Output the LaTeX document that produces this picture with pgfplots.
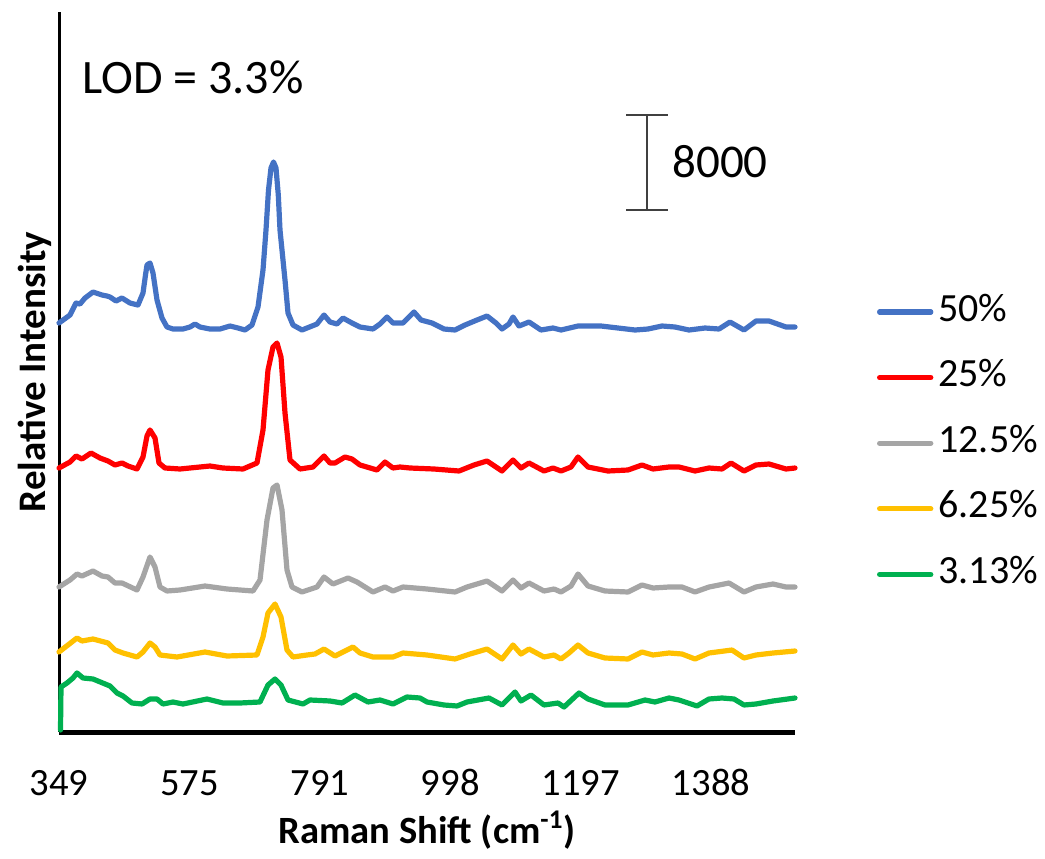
\documentclass[border=0pt]{standalone}
\usepackage{fontspec}
\setmainfont{Carlito}
\usepackage{pgfplots}
\pgfplotsset{compat=1.18}
\usepackage{pgfplotstable}
\definecolor{cblue}{HTML}{4472C4}
\definecolor{cred}{HTML}{FF0000}
\definecolor{cgray}{HTML}{A5A5A5}
\definecolor{cyellow}{HTML}{FFC000}
\definecolor{cgreen}{HTML}{00B050}
\definecolor{sbar}{HTML}{404040}
% x: position along the category axis (labels every 130.4 units), y: relative intensity (95 units = 8000 counts)
\pgfplotstableread{
x y
0 409
11 417
17 429
21 428
26 434
34 440
43 437
48 436
51 435
57 431
63 434
71 429
79 427
84 439
86.5 457
88 467
91 469
94 459
98 432
103 414
108 405
114 403
124 403
131 405
136 408
141 405
151 403
161 403
171 406
179 404
186 402
193 407
199 425
204 462
207 502
209.5 542
212 564
214.5 570
217 564
219.3 537
221 502
226 452
229 419
234 407
243 402
248 404
258 408
265 417
271 410
278 408
284 414
293 409
301 405
314 403
321 408
328 415
334 409
344 409
355 420
362 412
373 409
385 403
396 402
406 407
418 412
428 416
437 409
443 403
450 408
454 415
460 406
470 410
482 402
494 404
502 402
519 406
542 406
559 404
576 402
589 403
603 406
616 405
630 402
646 404
660 403
671 410
685 402
697 411
710 411
727 405
736 405
}\dblue
\pgfplotstableread{
x y
0 264
11 270
17 276
23 273
32 279
41 274
49 271
56 267
63 269
69 266
78 263
84 275
88 296
91 302
96 294
100 269
106 264
121 263
141 265
151 266
164 264
184 263
198 269
204 302
209 362
214 385
218 389
222 375
226 319
231 272
241 263
254 265
265 276
271 269
276 269
286 275
293 273
301 267
318 262
326 270
334 264
341 265
351 264
375 263
400 261
415 267
428 271
443 261
454 272
462 264
470 269
485 261
494 264
502 261
512 265
519 275
529 265
549 261
569 262
583 267
594 263
610 265
620 265
636 261
650 264
663 263
672 269
685 261
697 267
710 268
727 263
736 264
}\dred
\pgfplotstableread{
x y
0 145
11 152
18 158
23 156
34 161
43 156
49 155
56 149
63 149
78 142
84 155
91 175
96 165
101 145
108 141
121 142
146 146
168 143
194 141
201 152
208 212
214 244
218 247
223 222
228 162
233 145
243 140
258 145
265 155
274 148
289 154
298 150
314 140
326 145
334 141
344 145
368 143
396 140
408 145
428 151
443 141
454 152
462 144
470 149
485 141
495 143
502 140
512 146
519 158
529 146
546 141
569 140
583 147
594 144
610 145
623 145
636 140
650 145
670 149
685 140
697 145
714 148
727 145
736 145
}\dgray
\pgfplotstableread{
x y
0 80
9 87
18 94
23 91
34 93
49 89
56 82
64 79
78 75
84 80
91 89
96 85
101 77
118 75
146 80
168 76
198 77
204 95
209 119
216 128
222 115
228 82
234 75
248 77
256 78
265 83
276 76
294 85
301 79
314 75
334 75
344 79
368 77
396 73
411 78
428 83
443 73
454 87
462 78
470 83
485 75
495 77
502 73
510 79
519 87
529 79
546 74
569 73
583 80
594 77
610 79
623 78
636 73
650 79
673 82
685 74
697 77
714 79
736 81
}\dyellow
\pgfplotstableread{
x y
1.5 2
2 45
8 49
14 54
18 59
24 54
34 53
51 46
58 39
64 36
73 29
83 28
91 33
98 33
104 28
114 30
124 28
148 33
164 29
181 29
201 30
209 47
216 53
222 47
229 32
244 28
251 32
271 31
283 29
296 37
309 30
321 32
334 28
348 35
361 34
368 30
385 27
398 26
408 30
430 34
443 27
456 40
462 31
472 37
485 27
499 29
505 25
520 39
529 33
546 27
569 27
586 32
596 30
610 34
620 32
638 26
650 33
663 34
675 33
685 27
697 28
714 31
736 34
}\dgreen
\begin{document}
\begin{tikzpicture}
\begin{axis}[
  width=368bp, height=360bp, scale only axis,
  xmin=0, xmax=736, ymin=0, ymax=720,
  clip=false,
  axis x line=bottom, axis y line=left,
  axis line style={-},
  x axis line style={line width=2.5bp},
  y axis line style={line width=1.5bp},
  ytick=\empty,
  xtick={0,130.4,260.8,391.2,521.6,652},
  xticklabels={349,575,791,998,1197,1388},
  major tick length=0pt,
  /pgf/number format/assume math mode=true,
  xticklabel style={anchor=base, inner sep=0pt, yshift=-31.5bp, font=\fontsize{19.3bp}{23bp}\selectfont},
  xlabel={Raman Shift (cm\textsuperscript{-1})},
  xlabel style={at={(axis description cs:0.5,0)}, anchor=base, inner sep=0pt, yshift=-55.5bp, font=\fontsize{19.3bp}{22bp}\selectfont\bfseries},
  ylabel={Relative Intensity},
  ylabel style={at={(axis description cs:-0.0177,0.5)}, anchor=base, inner sep=0pt, font=\fontsize{19.5bp}{23bp}\selectfont\bfseries},
  legend cell align=left,
  legend image code/.code={\draw[#1, line cap=round] (1.2bp,0bp) -- (26.8bp,0bp);},
  legend style={at={(rel axis cs:1.1114,0.6097)}, anchor=north west, draw=none, fill=none,
    inner sep=0pt, outer sep=0pt, row sep=13.8bp, column sep=2.5bp,
    nodes={inner sep=0pt, text height=14bp, text depth=5bp, font=\fontsize{20bp}{24bp}\selectfont}},
  every axis plot/.append style={line width=2.6bp, line join=round, line cap=round, mark=none},
]
\addplot[cblue] table {\dblue};
\addplot[cred] table {\dred};
\addplot[cgray] table {\dgray};
\addplot[cyellow] table {\dyellow};
\addplot[cgreen] table {\dgreen};
\legend{50\%,25\%,12.5\%,6.25\%,3.13\%}
\addplot[forget plot, draw=sbar, line width=1.25bp, line cap=butt] coordinates {(588,522) (588,617)};
\addplot[forget plot, draw=sbar, line width=1.25bp, line cap=butt] coordinates {(567,522) (609,522)};
\addplot[forget plot, draw=sbar, line width=1.25bp, line cap=butt] coordinates {(567,617) (609,617)};
\node[anchor=base west, inner sep=0pt, font=\fontsize{24bp}{28bp}\selectfont] at (axis cs:23,639) {LOD = 3.3\%};
\node[anchor=west, inner sep=0pt, font=\fontsize{23.5bp}{28bp}\selectfont] at (axis cs:613,570) {8000};
\end{axis}
\path (current axis.south west) ++(-29.5bp,-63.5bp) rectangle ++(522.5bp,429.5bp);
\end{tikzpicture}
\end{document}
